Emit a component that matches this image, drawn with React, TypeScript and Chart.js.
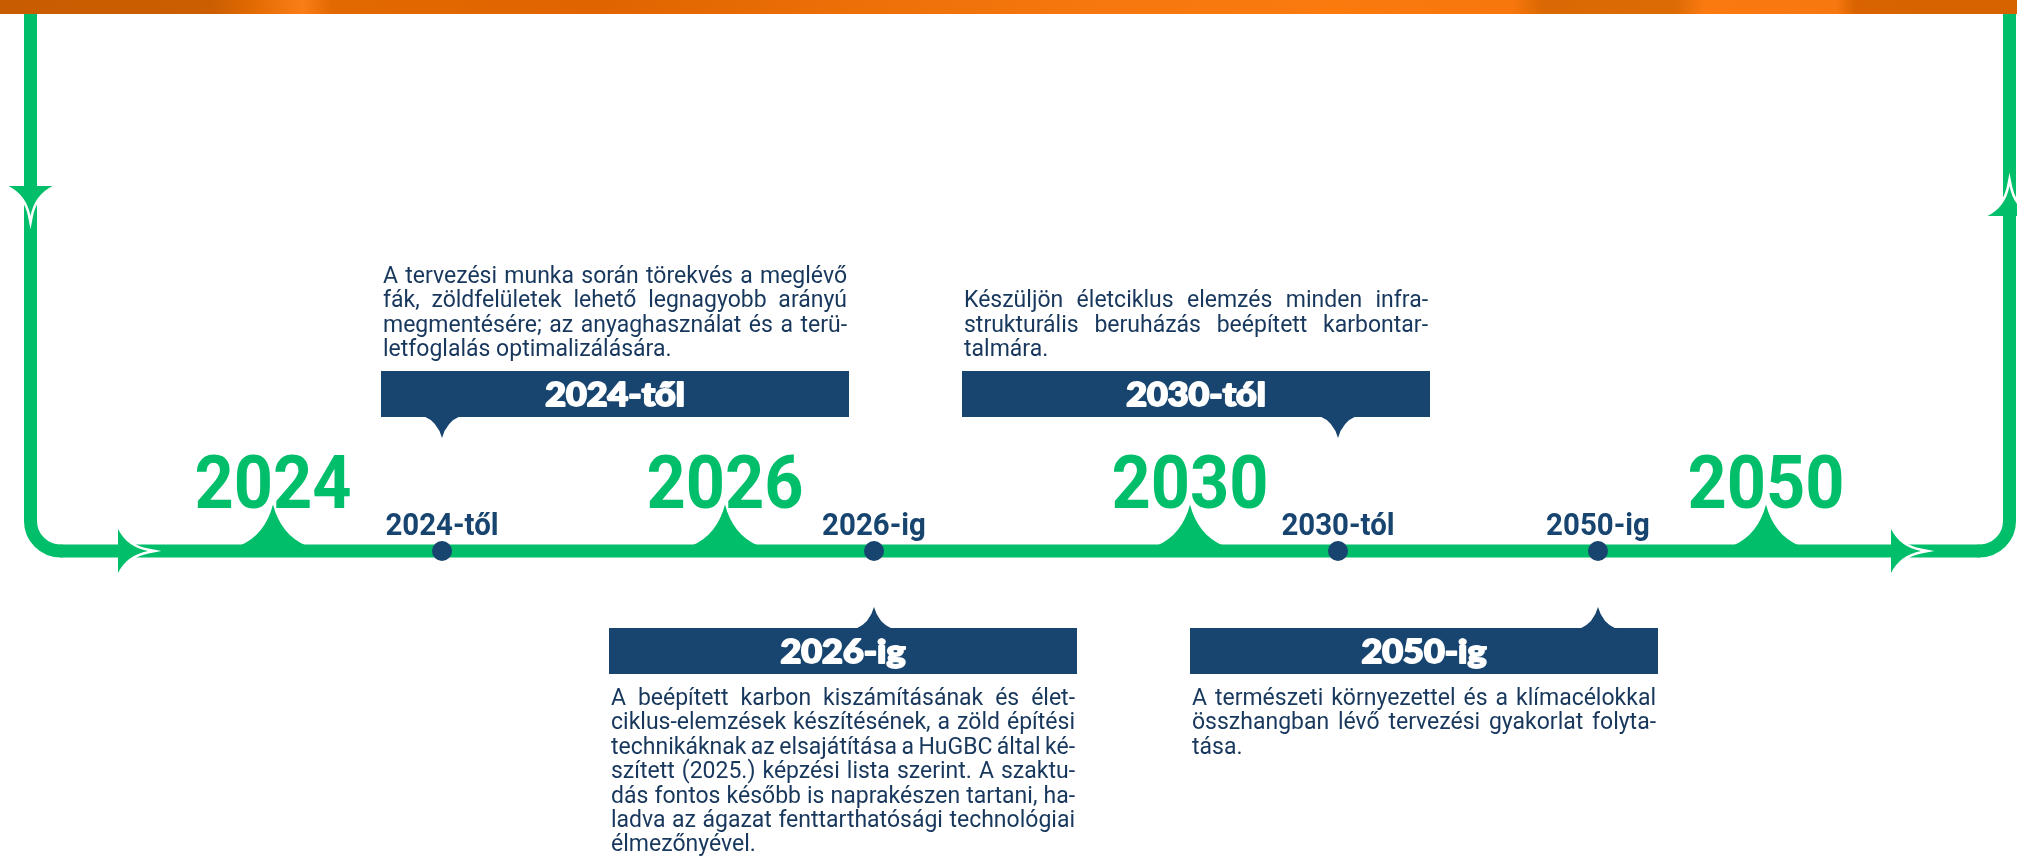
import React, { useEffect, useRef } from 'react';
import { Chart, registerables } from 'chart.js';

Chart.register(...registerables);

// ---------------- data ----------------
const yearLabels = ['2024', '2026', '2030', '2050'];
const yearPositions = [273, 725, 1190, 1766];

const milestoneLabels = ['2024-től', '2026-ig', '2030-tól', '2050-ig'];
const milestonePositions = [442, 874, 1338, 1598];
const milestoneSides = ['top', 'bottom', 'top', 'bottom'];
const boxStarts = [381, 609, 962, 1190];

const desc2024 = [
  'A tervezési munka során törekvés a meglévő',
  'fák, zöldfelületek lehető legnagyobb arányú',
  'megmentésére; az anyaghasználat és a terü-',
  'letfoglalás optimalizálására.',
];
const desc2026 = [
  'A beépített karbon kiszámításának és élet-',
  'ciklus-elemzések készítésének, a zöld építési',
  'technikáknak az elsajátítása a HuGBC által ké-',
  'szített (2025.) képzési lista szerint. A szaktu-',
  'dás fontos később is naprakészen tartani, ha-',
  'ladva az ágazat fenttarthatósági technológiai',
  'élmezőnyével.',
];
const desc2030 = [
  'Készüljön életciklus elemzés minden infra-',
  'strukturális beruházás beépített karbontar-',
  'talmára.',
];
const desc2050 = [
  'A természeti környezettel és a klímacélokkal',
  'összhangban lévő tervezési gyakorlat folyta-',
  'tása.',
];
const descriptions = [desc2024, desc2026, desc2030, desc2050];

// ---------------- layout / style ----------------
const W = 2017;
const H = 860;
const LINE_Y = 551;
const LINE_W = 13;
const LEFT_X = 30.5;
const RIGHT_X = 2009.5;
const CORNER_R = 30;
const BAR_H = 14;
const BOX_W = 468;
const BOX_H = 46;
const TOP_BOX_Y = 371;
const BOTTOM_BOX_Y = 628;
const POINTER_H = 21;
const POINTER_HALF = 18.5;
const DESC_LINE_H = 24.4;
const TOP_DESC_LAST_BASELINE = 356;
const BOTTOM_DESC_FIRST_BASELINE = 705;

const GREEN = '#00BE6A';
const NAVY = '#17456F';
const TEXT = '#17375C';

const YEAR_FONT = '700 74px Roboto, "DejaVu Sans", sans-serif';
const LABEL_FONT = '700 32px Roboto, "DejaVu Sans", sans-serif';
const TITLE_FONT = '900 32px Lato, Roboto, sans-serif';
const DESC_FONT = '400 23px Roboto, "DejaVu Sans", sans-serif';

function drawScaledText(ctx: CanvasRenderingContext2D, text: string, x: number, y: number, font: string, color: string, hScale: number, strokeW = 0) {
  ctx.save();
  ctx.font = font;
  ctx.fillStyle = color;
  ctx.textAlign = 'center';
  ctx.textBaseline = 'alphabetic';
  ctx.translate(x, y);
  ctx.scale(hScale, 1);
  if (strokeW > 0) {
    ctx.strokeStyle = color;
    ctx.lineWidth = strokeW;
    ctx.lineJoin = 'round';
    ctx.strokeText(text, 0, 0);
  }
  ctx.fillText(text, 0, 0);
  ctx.restore();
}

function drawParagraph(ctx: CanvasRenderingContext2D, lines: string[], x: number, firstBaseline: number, width: number) {
  ctx.save();
  ctx.font = DESC_FONT;
  ctx.fillStyle = TEXT;
  ctx.textAlign = 'left';
  ctx.textBaseline = 'alphabetic';
  lines.forEach((line, i) => {
    const y = firstBaseline + i * DESC_LINE_H;
    const last = i === lines.length - 1;
    const words = line.split(' ');
    if (last || words.length < 2) {
      ctx.fillText(line, x, y);
      return;
    }
    const widths = words.map((w) => ctx.measureText(w).width);
    const total = widths.reduce((a, b) => a + b, 0);
    const gap = (width - total) / (words.length - 1);
    let cx = x;
    words.forEach((w, k) => {
      ctx.fillText(w, cx, y);
      cx += widths[k] + gap;
    });
  });
  ctx.restore();
}

// concave "cusp" shape: base centred at cx on baseY, tip at baseY + dir*height
function cusp(ctx: CanvasRenderingContext2D, cx: number, baseY: number, halfW: number, height: number, dir: number, color: string) {
  ctx.save();
  ctx.fillStyle = color;
  ctx.beginPath();
  ctx.moveTo(cx - halfW, baseY);
  ctx.quadraticCurveTo(cx - halfW * 0.24, baseY + dir * height * 0.26, cx, baseY + dir * height);
  ctx.quadraticCurveTo(cx + halfW * 0.24, baseY + dir * height * 0.26, cx + halfW, baseY);
  ctx.closePath();
  ctx.fill();
  ctx.restore();
}

// swept arrow head: base centre (bx,by), direction (dx,dy)
function arrowHead(ctx: CanvasRenderingContext2D, bx: number, by: number, dx: number, dy: number) {
  const len = 30;
  const hw = 22;
  const px = -dy;
  const py = dx;
  const tipX = bx + dx * len;
  const tipY = by + dy * len;
  const a = [bx + px * hw, by + py * hw];
  const b = [bx - px * hw, by - py * hw];
  const c1 = [bx + dx * 9 + px * 4, by + dy * 9 + py * 4];
  const c2 = [bx + dx * 9 - px * 4, by + dy * 9 - py * 4];
  const path = () => {
    ctx.beginPath();
    ctx.moveTo(a[0], a[1]);
    ctx.quadraticCurveTo(c1[0], c1[1], tipX, tipY);
    ctx.quadraticCurveTo(c2[0], c2[1], b[0], b[1]);
  };
  ctx.save();
  path();
  ctx.strokeStyle = '#ffffff';
  ctx.lineWidth = 5;
  ctx.lineJoin = 'miter';
  ctx.miterLimit = 10;
  ctx.stroke();
  path();
  ctx.closePath();
  ctx.fillStyle = GREEN;
  ctx.fill();
  ctx.restore();
}

const timelinePlugin = {
  id: 'timelineDecor',
  beforeDatasetsDraw(chart: any) {
    const ctx: CanvasRenderingContext2D = chart.ctx;
    const xs = chart.scales.x;
    const ys = chart.scales.y;
    const X = (v: number) => xs.getPixelForValue(v);
    const Y = (v: number) => ys.getPixelForValue(v);
    ctx.save();
    ctx.strokeStyle = GREEN;
    ctx.lineWidth = LINE_W;
    ctx.lineCap = 'butt';
    ctx.beginPath();
    ctx.moveTo(X(LEFT_X), Y(0));
    ctx.lineTo(X(LEFT_X), Y(LINE_Y - CORNER_R));
    ctx.arcTo(X(LEFT_X), Y(LINE_Y), X(LEFT_X + CORNER_R), Y(LINE_Y), CORNER_R);
    ctx.lineTo(X(LEFT_X + CORNER_R + 2), Y(LINE_Y));
    ctx.stroke();
    ctx.beginPath();
    ctx.moveTo(X(RIGHT_X - CORNER_R - 2), Y(LINE_Y));
    ctx.lineTo(X(RIGHT_X - CORNER_R), Y(LINE_Y));
    ctx.arcTo(X(RIGHT_X), Y(LINE_Y), X(RIGHT_X), Y(LINE_Y - CORNER_R), CORNER_R);
    ctx.lineTo(X(RIGHT_X), Y(0));
    ctx.stroke();
    ctx.restore();
  },
  afterDatasetsDraw(chart: any) {
    const ctx: CanvasRenderingContext2D = chart.ctx;
    const xs = chart.scales.x;
    const ys = chart.scales.y;
    const X = (v: number) => xs.getPixelForValue(v);
    const Y = (v: number) => ys.getPixelForValue(v);

    // arrows
    arrowHead(ctx, X(LEFT_X), Y(186), 0, 1);
    arrowHead(ctx, X(118), Y(LINE_Y), 1, 0);
    arrowHead(ctx, X(1891), Y(LINE_Y), 1, 0);
    arrowHead(ctx, X(RIGHT_X), Y(216), 0, -1);

    // year bumps + big years
    yearPositions.forEach((pos, i) => {
      cusp(ctx, X(pos), Y(LINE_Y - LINE_W / 2 + 1), 33, 41, -1, GREEN);
      drawScaledText(ctx, yearLabels[i], X(pos), Y(508), YEAR_FONT, GREEN, 0.925);
    });

    // milestone labels
    milestonePositions.forEach((pos, i) => {
      drawScaledText(ctx, milestoneLabels[i], X(pos), Y(535), LABEL_FONT, NAVY, 0.92);
    });

    // boxes
    milestonePositions.forEach((pos, i) => {
      const top = milestoneSides[i] === 'top';
      const boxY = top ? TOP_BOX_Y : BOTTOM_BOX_Y;
      const x0 = X(boxStarts[i]);
      const x1 = X(boxStarts[i] + BOX_W);
      const y0 = Y(boxY);
      const y1 = Y(boxY + BOX_H);
      ctx.save();
      ctx.fillStyle = NAVY;
      ctx.fillRect(x0, y0, x1 - x0, y1 - y0);
      ctx.restore();
      if (top) {
        cusp(ctx, X(pos), Y(boxY + BOX_H - 1), POINTER_HALF, POINTER_H + 1, 1, NAVY);
      } else {
        cusp(ctx, X(pos), Y(boxY + 1), POINTER_HALF, POINTER_H + 1, -1, NAVY);
      }
      drawScaledText(ctx, milestoneLabels[i], (x0 + x1) / 2, Y(boxY + BOX_H / 2 + 11.5), TITLE_FONT, '#ffffff', 1.12, 1.8);
      const lines = descriptions[i];
      const first = top
        ? TOP_DESC_LAST_BASELINE - (lines.length - 1) * DESC_LINE_H
        : BOTTOM_DESC_FIRST_BASELINE;
      drawParagraph(ctx, lines, x0 + 2, Y(first), x1 - x0 - 4);
    });

    // orange header band
    ctx.save();
    const g = ctx.createLinearGradient(0, 0, W, 0);
    const stops: [number, string][] = [
      [0, '#C85C00'], [0.105, '#CB5E00'], [0.125, '#E26A03'], [0.15, '#FA7E18'],
      [0.165, '#E26802'], [0.3, '#E06500'], [0.42, '#EC6F08'], [0.55, '#F6780E'],
      [0.66, '#FA7A0E'], [0.75, '#F7770C'], [0.765, '#DA6804'], [0.83, '#DC6A05'],
      [0.845, '#FA7A10'], [0.91, '#F87810'], [0.92, '#D86300'], [1, '#D66200'],
    ];
    stops.forEach(([o, c]) => g.addColorStop(o, c));
    ctx.fillStyle = g;
    ctx.fillRect(0, 0, W, Y(BAR_H));
    ctx.restore();
  },
};

export default function App() {
  const ref = useRef<HTMLCanvasElement | null>(null);

  useEffect(() => {
    document.body.style.margin = '0';
    const canvas = ref.current;
    if (!canvas) return;
    const chart = new Chart(canvas, {
      type: 'scatter',
      data: {
        datasets: [
          {
            label: 'milestones',
            data: milestonePositions.map((x) => ({ x, y: LINE_Y })),
            pointRadius: 10,
            pointHoverRadius: 10,
            pointBackgroundColor: NAVY,
            pointBorderWidth: 0,
            showLine: false,
            clip: false,
          } as any,
          {
            label: 'timeline',
            data: [
              { x: LEFT_X + CORNER_R, y: LINE_Y },
              { x: RIGHT_X - CORNER_R, y: LINE_Y },
            ],
            showLine: true,
            borderColor: GREEN,
            borderWidth: LINE_W,
            pointRadius: 0,
            borderCapStyle: 'butt',
            clip: false,
          } as any,
        ],
      },
      options: {
        responsive: false,
        maintainAspectRatio: false,
        animation: false,
        devicePixelRatio: 1,
        layout: { padding: 0, autoPadding: false },
        events: [],
        scales: {
          x: { type: 'linear', min: 0, max: W, display: false },
          y: { type: 'linear', min: 0, max: H, reverse: true, display: false },
        },
        plugins: {
          legend: { display: false },
          tooltip: { enabled: false },
        },
      } as any,
      plugins: [timelinePlugin as any],
    });
    return () => chart.destroy();
  }, []);

  return (
    <div style={{ width: W, height: H, overflow: 'hidden', background: '#ffffff' }}>
      <canvas ref={ref} width={W} height={H} style={{ display: 'block' }} />
    </div>
  );
}
